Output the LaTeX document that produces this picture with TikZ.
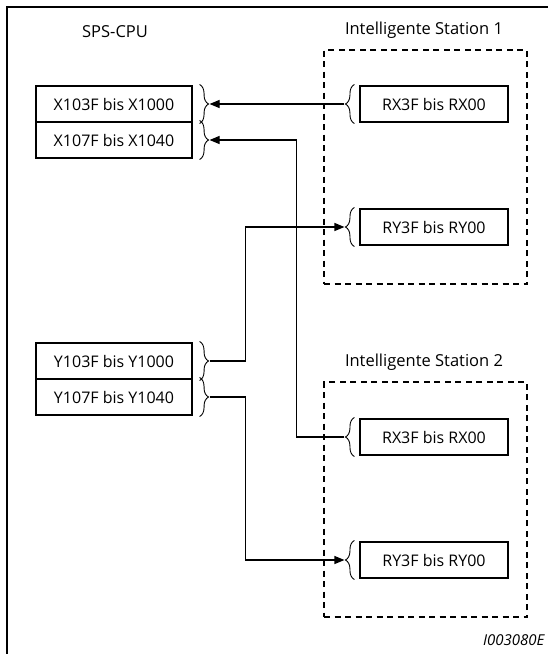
\documentclass[tikz,border=0pt]{standalone}
\usepackage{fontspec}
\setmainfont{Open Sans}
\usetikzlibrary{decorations.pathreplacing,arrows.meta}
\tikzset{
  reg/.style={draw, line width=1.1pt, minimum width=156pt, minimum height=36pt, inner sep=0pt, font=\fontsize{16}{19}\selectfont},
  sreg/.style={reg, minimum width=148pt},
  station/.style={draw, dashed, dash pattern=on 6pt off 4.5pt, line width=1.1pt},
  title/.style={font=\fontsize{16.5}{19}\selectfont},
  brc/.style={decorate, decoration={brace, amplitude=9pt}, line width=0.9pt},
  conn/.style={line width=1.1pt},
  arr/.style={conn, -{Triangle[length=10pt,width=8pt]}},
}
\begin{document}
\begin{tikzpicture}[x=1pt,y=-1pt]
\useasboundingbox (0,0) rectangle (548,654);
\draw[line width=1.3pt] (548,7) -- (7,7) -- (7,654);

\node[title] (cpu) at (115,32) {SPS-CPU};
\node[title] (st1) at (424,30) {Intelligente Station 1};
\node[title] (st2) at (424,362) {Intelligente Station 2};

\node[station, minimum width=203pt, minimum height=234pt] (box1) at (425.5,167) {};
\node[station, minimum width=203pt, minimum height=235pt] (box2) at (425.5,499.5) {};

\node[reg] (x1) at (114,104) {X103F bis X1000};
\node[reg] (x2) at (114,140) {X107F bis X1040};
\node[reg] (y1) at (114,361) {Y103F bis Y1000};
\node[reg] (y2) at (114,397) {Y107F bis Y1040};

\node[sreg] (rx1) at (434,104) {RX3F bis RX00};
\node[sreg] (ry1) at (434,227) {RY3F bis RY00};
\node[sreg] (rx2) at (434,437) {RX3F bis RX00};
\node[sreg] (ry2) at (434,560) {RY3F bis RY00};

\foreach \n in {x1,x2,y1,y2}{
  \draw[brc] ([xshift=7pt,yshift=1pt]\n.north east) -- ([xshift=7pt,yshift=-1pt]\n.south east);
  \coordinate (\n b) at ([xshift=17pt]\n.east);
}
\foreach \n in {rx1,ry1,rx2,ry2}{
  \draw[brc] ([xshift=-5pt,yshift=-1pt]\n.south west) -- ([xshift=-5pt,yshift=1pt]\n.north west);
  \coordinate (\n b) at ([xshift=-15pt]\n.west);
}

\draw[arr] (rx1b) -- (x1b);
\draw[arr] (rx2b) -- ++(-48,0) |- (x2b);
\draw[arr] (y1b) -- ++(36,0) |- (ry1b);
\draw[arr] (y2b) -- ++(36,0) |- (ry2b);

\node[font=\itshape\fontsize{15}{18}\selectfont, anchor=east] (id) at (548,640) {I003080E};
\end{tikzpicture}
\end{document}
